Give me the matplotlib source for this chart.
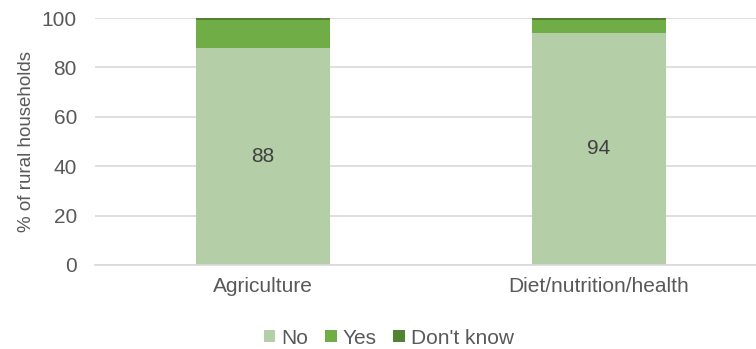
import numpy as np
import matplotlib.pyplot as plt

plt.rcParams['font.family'] = ['Liberation Sans', 'DejaVu Sans']

# data
categories = ["Agriculture", "Diet/nutrition/health"]
no_vals = [88, 94]
yes_vals = [11, 5]
dk_vals = [1, 1]
series_names = ["No", "Yes", "Don't know"]
colors = ["#b4cea8", "#70ad47", "#548235"]

fig = plt.figure(figsize=(7.56, 3.49), dpi=100)
ax = fig.add_axes([95/756, 84/349, 661/756, 247/349])

x = np.arange(len(categories))
bottom = np.zeros(len(categories))
for vals, name, c in zip([no_vals, yes_vals, dk_vals], series_names, colors):
    ax.bar(x, vals, width=0.4, bottom=bottom, color=c, label=name, zorder=2)
    bottom += np.array(vals)

# value labels on the "No" segment
for xi, v in zip(x, no_vals):
    ax.text(xi, v / 2, str(v), ha="center", va="center", fontsize=15, color="#404040")

ax.set_xlim(-0.5, 1.467)
ax.set_ylim(0, 100)
ax.set_yticks(range(0, 101, 20))
ax.set_xticks(x)
ax.set_xticklabels(categories)
ax.grid(axis="y", color="#d9d9d9", lw=1.2, zorder=0)
for s in ["top", "right", "left"]:
    ax.spines[s].set_visible(False)
ax.spines["bottom"].set_color("#d9d9d9")
ax.spines["bottom"].set_linewidth(1.2)
ax.tick_params(axis="x", length=0, labelsize=15, colors="#595959", pad=9)
ax.tick_params(axis="y", length=0, labelsize=15, colors="#595959", pad=13)
ax.set_ylabel("% of rural households", fontsize=13.5, color="#595959", labelpad=5)

fig.legend(loc="center", bbox_to_anchor=(389/756, 1 - 338/349), ncol=3, frameon=False,
           fontsize=15, handlelength=0.55, handleheight=0.55, handletextpad=0.3,
           columnspacing=0.8, labelcolor="#595959")

plt.savefig("out.png", dpi=100)
